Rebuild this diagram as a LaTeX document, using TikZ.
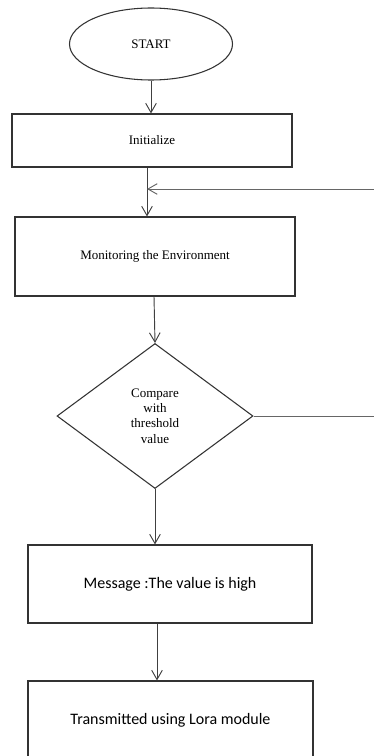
\documentclass[tikz,border=0pt]{standalone}
\usepackage{fontspec}
\setmainfont{Liberation Serif}
\newfontfamily\calfont{Carlito}
\usetikzlibrary{shapes.geometric,arrows.meta}
\begin{document}
\begin{tikzpicture}[x=0.75pt,y=-0.75pt,
  line/.style={draw=black!75, line width=0.7pt},
  arr/.style={line, -{Straight Barb[length=7pt,width=8pt]}},
  boxnode/.style={draw=black!80, line width=0.8pt, rectangle, inner sep=0pt, align=center},
  serif/.style={font=\fontsize{9.75}{11.6}\selectfont},
  sans/.style={font=\calfont\fontsize{12}{14}\selectfont}]
\useasboundingbox (0,0) rectangle (374,756);
\clip (0,0) rectangle (374,756);
\fill[white] (0,0) rectangle (374,756);
\node[boxnode, ellipse, serif, minimum width=122.25pt, minimum height=54pt] (start) at (151,44) {START};
\node[boxnode, serif, minimum width=210pt, minimum height=39.75pt] (init) at (152,140.5) {Initialize};
\node[boxnode, serif, minimum width=210pt, minimum height=59.25pt] (mon) at (155,256.5) {Monitoring the Environment};
\node[boxnode, diamond, serif, minimum width=147pt, minimum height=108.75pt] (cmp) at (155,416) {Compare\\with\\threshold\\value};
\node[boxnode, sans, minimum width=213pt, minimum height=58.5pt] (msg) at (170,584) {Message :The value is high};
\node[boxnode, sans, minimum width=213.75pt, minimum height=58.5pt] (tx) at (170.5,720) {Transmitted using Lora module};
\coordinate (j) at (147,189);
\coordinate (fr) at (374.4,189);
\draw[arr] (start.south) -- (start.south |- init.north);
\draw[line] (init.south -| j) -- (j);
\draw[arr] (j) -- (mon.north -| j);
\draw[arr] (154,0 |- mon.south) -- (cmp.north);
\draw[arr] (cmp.south) -- (cmp.south |- msg.north);
\draw[arr] (157,0 |- msg.south) -- (157,0 |- tx.north);
\draw[arr, draw=black!60] (cmp.east) -- (cmp.east -| fr) -- (fr) -- (j);
\end{tikzpicture}
\end{document}
